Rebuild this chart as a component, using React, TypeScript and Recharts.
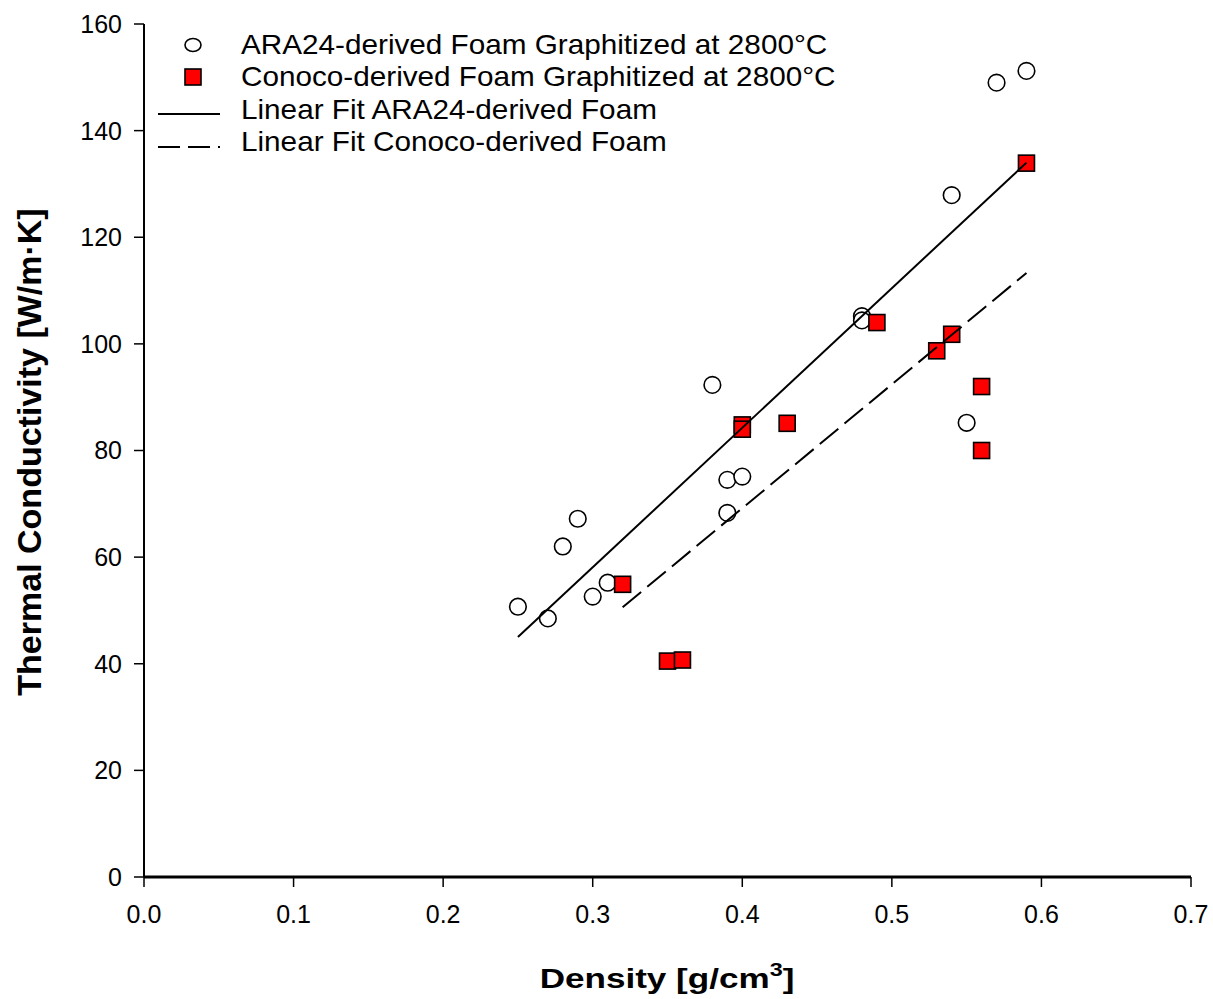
import { Scatter, ScatterChart, XAxis, YAxis } from "recharts";

// ARA24-derived foam, graphitized at 2800°C
const araDensity = [0.25, 0.27, 0.28, 0.29, 0.3, 0.31, 0.38, 0.39, 0.39, 0.4, 0.48, 0.48, 0.54, 0.55, 0.57, 0.59];
const araConductivity = [50.7, 48.5, 62.0, 67.2, 52.6, 55.2, 92.3, 74.5, 68.3, 75.1, 105.2, 104.4, 127.9, 85.2, 149.0, 151.2];

// Conoco-derived foam, graphitized at 2800°C
const conocoDensity = [0.32, 0.35, 0.36, 0.4, 0.4, 0.43, 0.49, 0.53, 0.54, 0.56, 0.56, 0.59];
const conocoConductivity = [54.9, 40.5, 40.7, 84.8, 84.0, 85.1, 104.0, 98.7, 101.8, 92.0, 80.0, 133.9];

// linear fit end points
const araFitDensity = [0.25, 0.59];
const araFitConductivity = [45.0, 134.0];
const conocoFitDensity = [0.32, 0.59];
const conocoFitConductivity = [50.6, 113.3];

const xTicks = [0, 0.1, 0.2, 0.3, 0.4, 0.5, 0.6, 0.7];
const yTicks = [0, 20, 40, 60, 80, 100, 120, 140, 160];

const legendLabels = [
  "ARA24-derived Foam Graphitized at 2800°C",
  "Conoco-derived Foam Graphitized at 2800°C",
  "Linear Fit ARA24-derived Foam",
  "Linear Fit Conoco-derived Foam",
];

const zip = (xs: number[], ys: number[]) => xs.map((x, i) => ({ x, y: ys[i] }));

const araData = zip(araDensity, araConductivity);
const conocoData = zip(conocoDensity, conocoConductivity);
const araFit = zip(araFitDensity, araFitConductivity);
const conocoFit = zip(conocoFitDensity, conocoFitConductivity);

const FONT = "Arial, 'Liberation Sans', sans-serif";
const W = 1213;
const H = 999;

const CircleMark = (p: any) => (
  <circle cx={p.cx} cy={p.cy} r={8.3} fill="#fff" stroke="#000" strokeWidth={1.6} />
);
const SquareMark = (p: any) => (
  <rect x={p.cx - 8} y={p.cy - 8} width={16} height={16} fill="#ff0000" stroke="#000" strokeWidth={1.6} />
);
const NoMark = () => <g />;

const tickStyle = { fill: "#000", fontSize: 25, fontFamily: FONT };

function Overlay() {
  const rowsY = [45, 77, 110, 142];
  return (
    <svg
      width={W}
      height={H}
      style={{ position: "absolute", left: 0, top: 0, pointerEvents: "none" }}
    >
      {/* legend */}
      <ellipse cx={193} cy={rowsY[0]} rx={8} ry={6.5} fill="#fff" stroke="#000" strokeWidth={1.6} />
      <rect x={185} y={rowsY[1] - 8} width={16} height={16} fill="#ff0000" stroke="#000" strokeWidth={1.6} />
      <line x1={158} x2={220} y1={114} y2={114} stroke="#000" strokeWidth={2} />
      <line x1={158} x2={220} y1={147} y2={147} stroke="#000" strokeWidth={2} strokeDasharray="22 8" />
      {legendLabels.map((label, i) => (
        <text
          key={label}
          transform={`translate(241 ${rowsY[i] + 9}) scale(1.1 1)`}
          fontFamily={FONT}
          fontSize={27}
          fill="#000"
        >
          {label}
        </text>
      ))}

      {/* axis titles */}
      <text
        transform="translate(29 452) rotate(-90)"
        textAnchor="middle"
        dominantBaseline="central"
        fontFamily={FONT}
        fontSize={34}
        fontWeight="bold"
        fill="#000"
      >
        Thermal Conductivity [W/m·K]
      </text>
      <text
        transform="translate(667 988) scale(1.3 1)"
        textAnchor="middle"
        fontFamily={FONT}
        fontSize={27}
        fontWeight="bold"
        fill="#000"
      >
        Density [g/cm
        <tspan dy={-12} fontSize={18}>3</tspan>
        <tspan dy={12}>]</tspan>
      </text>
    </svg>
  );
}

export default function App() {
  return (
    <div style={{ position: "absolute", left: 0, top: 0, width: W, height: H, background: "#fff" }}>
      <ScatterChart width={W} height={H} margin={{ top: 24, right: 22, bottom: 0, left: 0 }}>
        <XAxis
          type="number"
          dataKey="x"
          domain={[0, 0.7]}
          ticks={xTicks}
          tickFormatter={(v: number) => v.toFixed(1)}
          allowDataOverflow
          height={122}
          tick={tickStyle}
          tickSize={10}
          tickMargin={18}
          axisLine={{ stroke: "#000", strokeWidth: 3 }}
          tickLine={{ stroke: "#000", strokeWidth: 1.5 }}
        />
        <XAxis
          xAxisId="top"
          orientation="top"
          type="number"
          domain={[0, 0.7]}
          height={0}
          tick={false}
          tickLine={false}
          axisLine={{ stroke: "#000", strokeWidth: 2 }}
        />
        <YAxis
          type="number"
          dataKey="y"
          domain={[0, 160]}
          ticks={yTicks}
          allowDataOverflow
          width={144}
          tick={tickStyle}
          tickSize={10}
          tickMargin={12}
          axisLine={{ stroke: "#000", strokeWidth: 2 }}
          tickLine={{ stroke: "#000", strokeWidth: 1.5 }}
        />
        <YAxis
          yAxisId="right"
          orientation="right"
          type="number"
          domain={[0, 160]}
          width={0}
          tick={false}
          tickLine={false}
          axisLine={{ stroke: "#000", strokeWidth: 2 }}
        />
        <Scatter data={araData} shape={CircleMark} isAnimationActive={false} />
        <Scatter data={conocoData} shape={SquareMark} isAnimationActive={false} />
        <Scatter
          data={araFit}
          shape={NoMark}
          line={{ stroke: "#000", strokeWidth: 2 }}
          isAnimationActive={false}
        />
        <Scatter
          data={conocoFit}
          shape={NoMark}
          line={{ stroke: "#000", strokeWidth: 2, strokeDasharray: "24 8" }}
          isAnimationActive={false}
        />
      </ScatterChart>
      <Overlay />
    </div>
  );
}
